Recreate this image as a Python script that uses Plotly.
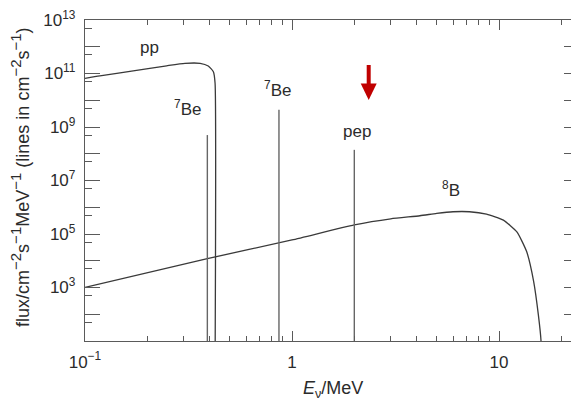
import plotly.graph_objects as go

# ---- data ----
pp_energy = [0.1, 0.118, 0.171, 0.248, 0.304, 0.36, 0.394, 0.417, 0.425, 0.425]
pp_flux = [6.6e10, 8.2e10, 1.25e11, 1.94e11, 2.4e11, 2.4e11, 1.9e11, 1.17e11, 4.3e10, 1.0]

b8_energy = [0.1, 0.39, 1.0, 2.0, 3.0, 4.15, 5.0, 6.0, 7.2, 8.7, 10.5, 12.2, 13.6, 14.7, 15.5, 15.96, 16.0]
b8_flux = [1.0e3, 1.2e4, 6.0e4, 2.2e5, 3.7e5, 4.8e5, 5.9e5, 6.8e5, 6.8e5, 5.5e5, 3.3e5, 1.2e5, 2.2e4, 1.7e3, 93, 10, 1.0]

line_names = ["7Be (384 keV)", "7Be (862 keV)", "pep"]
line_energy = [0.39, 0.865, 2.0]
line_flux = [5.0e8, 4.4e9, 1.4e8]
line_floor = 1.0

x_tickvals = [0.1, 1, 10]
x_ticktext = ["10<sup>−1</sup>", "1", "10"]
x_minor = [0.2, 0.3, 0.4, 0.5, 0.6, 0.7, 0.8, 0.9, 2, 3, 4, 5, 6, 7, 8, 9, 20]

y_tickvals = [1e1, 1e2, 1e3, 1e4, 1e5, 1e6, 1e7, 1e8, 1e9, 1e10, 1e11, 1e12, 1e13]
y_ticktext = ["", "", "10<sup>3</sup>", "", "10<sup>5</sup>", "", "10<sup>7</sup>", "",
              "10<sup>9</sup>", "", "10<sup>11</sup>", "", "10<sup>13</sup>"]
y_minor = [5e1, 5e2, 5e3, 5e4, 5e5, 5e6, 5e7, 5e8, 5e9, 5e10, 5e11, 5e12]

labels = ["pp", "<sup>7</sup>Be", "<sup>7</sup>Be", "pep", "<sup>8</sup>B"]

# ---- layout geometry (page body has an 8 px margin) ----
OFF = 8
W, H = 579 - OFF, 401 - OFF
L, T, B, R = 77, 12, 60, 0
PW, PH = W - L - R, H - T - B

FONT = "Liberation Sans, Arial, Helvetica, sans-serif"
TXT = "#2b2b2b"
AX = "#5a5a5a"


def px(xs):
    return (xs - OFF - L) / PW


def py(ys):
    return (H - B - (ys - OFF)) / PH


def sup(s):
    return f'<sup><span style="font-size:15px">{s}</span></sup>'


fig = go.Figure()

fig.add_trace(go.Scatter(x=pp_energy, y=pp_flux, mode="lines", name="pp",
                         line=dict(color="#3a3a3a", width=1.3, shape="spline", smoothing=0.5)))
fig.add_trace(go.Scatter(x=b8_energy, y=b8_flux, mode="lines", name="8B",
                         line=dict(color="#3a3a3a", width=1.3, shape="spline", smoothing=0.5)))
for nm, e, f in zip(line_names, line_energy, line_flux):
    fig.add_trace(go.Scatter(x=[e, e], y=[line_floor, f], mode="lines", name=nm,
                             line=dict(color="#666666", width=1.4)))

label_pos = [(149, 47), (187.5, 108), (277.5, 89), (357, 131), (451, 189)]
for t, (xs, ys) in zip(labels, label_pos):
    fig.add_annotation(xref="paper", yref="paper", x=px(xs), y=py(ys), text=t, showarrow=False,
                       xanchor="center", yanchor="middle",
                       font=dict(family=FONT, size=17, color=TXT))

# red arrow
ax_x = 368.7
fig.add_shape(type="line", xref="paper", yref="paper",
              x0=px(ax_x), x1=px(ax_x), y0=py(65), y1=py(85),
              line=dict(color="#c00000", width=4))
fig.add_shape(type="path", xref="paper", yref="paper",
              path=f"M {px(ax_x-8)},{py(83.5)} L {px(ax_x+8)},{py(83.5)} L {px(ax_x)},{py(100)} Z",
              fillcolor="#c00000", line=dict(color="#c00000", width=0))

# axis titles
fig.add_annotation(xref="paper", yref="paper", x=px(333), y=py(390), text="<i>E</i><sub>ν</sub>/MeV",
                   showarrow=False, xanchor="center", yanchor="middle",
                   font=dict(family=FONT, size=18, color=TXT))
ytitle = ("flux/cm" + sup("−2") + "s" + sup("−1") + "MeV" + sup("−1")
          + " (lines in cm" + sup("−2") + "s" + sup("−1") + ")")
fig.add_annotation(xref="paper", yref="paper", x=px(20), y=py(177),
                   text=ytitle, textangle=-90, showarrow=False, xanchor="center", yanchor="middle",
                   font=dict(family=FONT, size=18, color=TXT))

fig.update_xaxes(type="log", range=[-1, 1.3865], tickmode="array", tickvals=x_tickvals, ticktext=x_ticktext,
                 ticks="inside", ticklen=10, tickwidth=1.2, tickcolor=AX,
                 minor=dict(tickmode="array", tickvals=x_minor, ticks="inside", ticklen=5, tickwidth=1.2, tickcolor=AX),
                 showline=True, linecolor=AX, linewidth=1.3, mirror="allticks", showgrid=False, zeroline=False,
                 tickfont=dict(family=FONT, size=17, color=TXT), ticklabelstandoff=5,
                 ticklabeloverflow="allow")
fig.update_yaxes(type="log", range=[0.9995, 13.0005], tickmode="array", tickvals=y_tickvals, ticktext=y_ticktext,
                 ticks="inside", ticklen=15, tickwidth=1.2, tickcolor=AX,
                 minor=dict(tickmode="array", tickvals=y_minor, ticks="inside", ticklen=7, tickwidth=1.2, tickcolor=AX),
                 showline=True, linecolor=AX, linewidth=1.3, mirror="allticks", showgrid=False, zeroline=False,
                 tickfont=dict(family=FONT, size=17, color=TXT), ticklabelstandoff=5,
                 ticklabeloverflow="allow")

fig.update_layout(width=W, height=H, margin=dict(l=L, r=R, t=T, b=B, pad=0),
                  plot_bgcolor="white", paper_bgcolor="white", showlegend=False,
                  font=dict(family=FONT, color=TXT))

fig.write_html("out.html")
